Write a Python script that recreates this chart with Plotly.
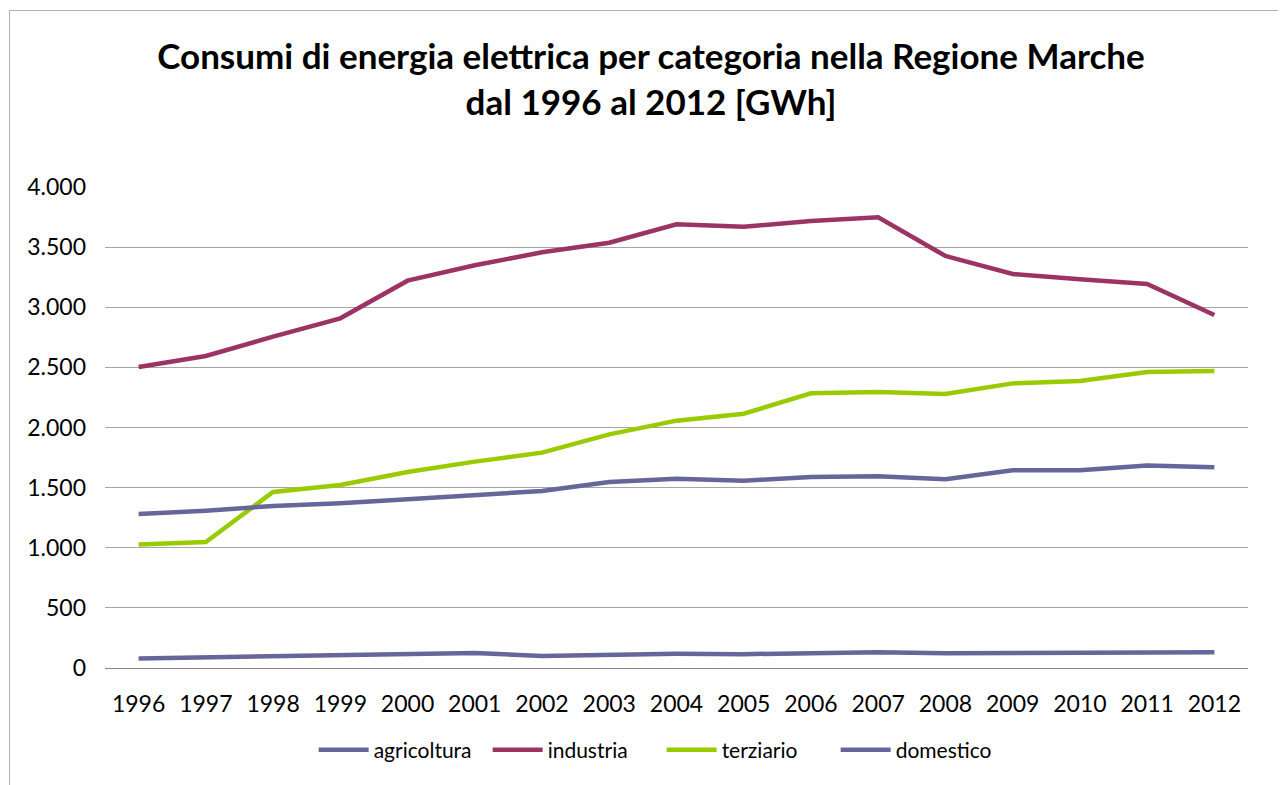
import plotly.graph_objects as go

anni = [str(a) for a in range(1996, 2013)]
agricoltura = [80, 90, 100, 103, 112, 125, 100, 112, 118, 115, 120, 132, 122, 125, 122, 132, 130]
industria = [2503, 2595, 2755, 2908, 3221, 3349, 3457, 3537, 3690, 3670, 3717, 3748, 3426, 3277, 3232, 3193, 2936]
terziario = [1028, 1048, 1464, 1522, 1630, 1716, 1791, 1943, 2057, 2115, 2284, 2295, 2279, 2367, 2387, 2462, 2470]
domestico = [1281, 1308, 1347, 1370, 1403, 1441, 1472, 1547, 1574, 1558, 1588, 1594, 1569, 1644, 1644, 1683, 1669]

serie = [
    ("agricoltura", agricoltura, "#66669A"),
    ("industria", industria, "#9B3465"),
    ("terziario", terziario, "#99CC00"),
    ("domestico", domestico, "#66669A"),
]

FONT = "Lato, Calibri, sans-serif"

# page body has an 8px margin, so figure coords = screen coords - 8
L, R, T, B = 97, 1240, 179, 660
W, H = 1286, 785

fig = go.Figure()
for nome, vals, col in serie:
    fig.add_trace(go.Scatter(x=anni, y=vals, name=nome, mode="lines",
                             line=dict(color=col, width=4.5)))

fig.update_layout(
    width=W, height=H,
    margin=dict(l=L, r=W - R, t=T, b=H - B),
    paper_bgcolor="white", plot_bgcolor="white",
    font=dict(family=FONT, color="black"),
    title=dict(text="<b>Consumi di energia elettrica per categoria nella Regione Marche<br>dal 1996 al 2012 [GWh]</b>",
               x=0.5, xanchor="center", y=1 - 61 / H, yanchor="top",
               font=dict(size=35, family=FONT, color="black")),
    xaxis=dict(type="category", range=[-0.5, 16.5], showgrid=False, showline=True,
               linecolor="#868686", linewidth=1, ticks="",
               tickfont=dict(size=23, family=FONT), ticklabelstandoff=15),
    yaxis=dict(range=[0, 4000], dtick=500, tickformat=",d", showgrid=True, gridcolor="#A6A6A6",
               gridwidth=1, zeroline=False, showline=False, ticks="",
               tickfont=dict(size=23, family=FONT), ticklabelstandoff=18),
    separators=",.",
    legend=dict(orientation="h", x=0.487, xanchor="center", y=-(750 - 668) / 481, yanchor="middle",
                font=dict(size=21, family=FONT), itemwidth=50, entrywidth=109,
                traceorder="normal"),
    showlegend=True,
)
fig.add_shape(type="rect", xref="paper", yref="paper",
              x0=(1.5 - L) / (R - L), x1=(1320 - L) / (R - L),
              y0=(B - 820) / (B - T), y1=(B - 2.5) / (B - T),
              line=dict(color="#B0B0B0", width=1), layer="below")

fig.write_html("out.html")
